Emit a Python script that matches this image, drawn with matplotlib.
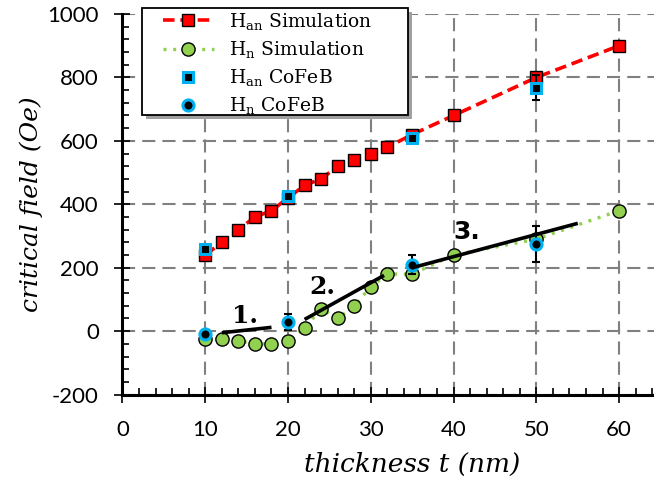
import matplotlib
matplotlib.use('Agg')
import matplotlib.pyplot as plt
from matplotlib.patches import Rectangle

# data
t_sim = [10, 12, 14, 16, 18, 20, 22, 24, 26, 28, 30, 32, 35, 40, 50, 60]
han_sim = [240, 280, 320, 360, 380, 420, 460, 480, 520, 540, 560, 580, 620, 680, 800, 900]
hn_sim = [-25, -25, -30, -40, -40, -30, 10, 70, 40, 80, 140, 180, 180, 240, 290, 380]

t_exp = [10, 20, 35, 50]
han_exp = [258, 425, 610, 768]
han_err = [0, 8, 15, 40]
hn_exp = [-10, 30, 210, 275]
hn_err = [0, 25, 30, 57]

# linear regimes 1., 2., 3.
fit_x = [[12, 18], [22, 31.6], [35, 55]]
fit_y = [[-5, 12], [37, 176], [200, 340]]
fit_labels = ['1.', '2.', '3.']
fit_label_x = [14.8, 24.1, 41.6]
fit_label_y = [49, 138, 313]

plt.rcParams['mathtext.fontset'] = 'dejavuserif'
plt.rcParams['axes.unicode_minus'] = False

W, H = 654, 484
fig = plt.figure(figsize=(W / 100, H / 100), dpi=100)
ax = fig.add_axes([0.1873, 0.1847, 0.886, 0.7864])

red = '#ff0000'
green = '#92d050'
blue = '#00b0f0'

l1, = ax.plot(t_sim, han_sim, color=red, lw=2.6, linestyle=(0, (3.2, 1.6)),
              marker='s', ms=8.5, mfc=red, mec='black', mew=1.0, zorder=3,
              label=r'H$_{\mathrm{an}}$ Simulation')
l2, = ax.plot(t_sim, hn_sim, color=green, lw=2.4, linestyle=(0, (0.9, 2.0)),
              marker='o', ms=9.5, mfc=green, mec='black', mew=1.0, zorder=3,
              label=r'H$_{\mathrm{n}}$ Simulation')

ax.errorbar(t_exp, han_exp, yerr=han_err, fmt='none', ecolor='black',
            elinewidth=1.5, capsize=3, capthick=1.5, zorder=4)
ax.errorbar(t_exp, hn_exp, yerr=hn_err, fmt='none', ecolor='black',
            elinewidth=1.5, capsize=3, capthick=1.5, zorder=4)
l3, = ax.plot(t_exp, han_exp, ls='none', marker='s', ms=7, mfc='black',
              mec=blue, mew=2.2, zorder=5, label=r'H$_{\mathrm{an}}$ CoFeB')
l4, = ax.plot(t_exp, hn_exp, ls='none', marker='o', ms=8, mfc='black',
              mec=blue, mew=2.2, zorder=5, label=r'H$_{\mathrm{n}}$ CoFeB')

for fx, fy in zip(fit_x, fit_y):
    ax.plot(fx, fy, color='black', lw=2.6, zorder=6, solid_capstyle='butt')
for lab, lx, ly in zip(fit_labels, fit_label_x, fit_label_y):
    fam = 'DejaVu Sans' if lab == '3.' else 'DejaVu Serif'
    ax.text(lx, ly, lab, ha='center', va='center', fontsize=18,
            fontweight='bold', family=fam, zorder=7)

ax.set_xlim(0, 70)
ax.set_ylim(-200, 1000)
ax.set_xticks(range(0, 61, 10))
ax.set_xticks(range(0, 71, 2), minor=True)
ax.set_yticks(range(-200, 1001, 200))
ax.set_yticks(range(-200, 1001, 40), minor=True)

ax.grid(True, which='major', color='#808080', lw=1.5, linestyle=(0, (6.3, 3.4)))
ax.set_axisbelow(True)

for s in ['top', 'right']:
    ax.spines[s].set_visible(False)
for s in ['left', 'bottom']:
    ax.spines[s].set_linewidth(2.2)

ax.tick_params(which='major', direction='inout', length=12, width=1.2,
               labelsize=16)
ax.tick_params(axis='x', which='major', pad=12)
ax.tick_params(axis='y', which='major', pad=11)
ax.tick_params(which='minor', direction='in', length=5, width=1.2)
for lab in ax.get_xticklabels() + ax.get_yticklabels():
    lab.set_family('Lato')

ax.set_xlabel('thickness t (nm)', fontsize=19, style='italic',
              family='DejaVu Serif', labelpad=9)
ax.set_ylabel('critical field (Oe)', fontsize=18, style='italic',
              family='DejaVu Serif', labelpad=3)

# legend box with shadow drawn by hand (the reference box is wider than its text)
bx0, by0, bx1, by1 = 142, 8, 408, 115
fig.patches.append(Rectangle(((bx0 + 4) / W, 1 - (by1 + 4) / H), (bx1 - bx0) / W,
                             (by1 - by0) / H, transform=fig.transFigure,
                             facecolor='#a0a0a0', edgecolor='none', zorder=8))
fig.patches.append(Rectangle((bx0 / W, 1 - by1 / H), (bx1 - bx0) / W,
                             (by1 - by0) / H, transform=fig.transFigure,
                             facecolor='white', edgecolor='black', lw=1.3, zorder=9))

leg = fig.legend(handles=[l1, l2, l3, l4], loc='upper left',
                 bbox_to_anchor=(163 / W, 1 - 11 / H), borderaxespad=0,
                 prop={'family': 'DejaVu Serif', 'size': 13.5}, numpoints=1,
                 frameon=False, handlelength=2.7, handletextpad=0.8,
                 labelspacing=0.38, borderpad=0)
leg.set_zorder(10)

fig.savefig('out.png', dpi=100)
